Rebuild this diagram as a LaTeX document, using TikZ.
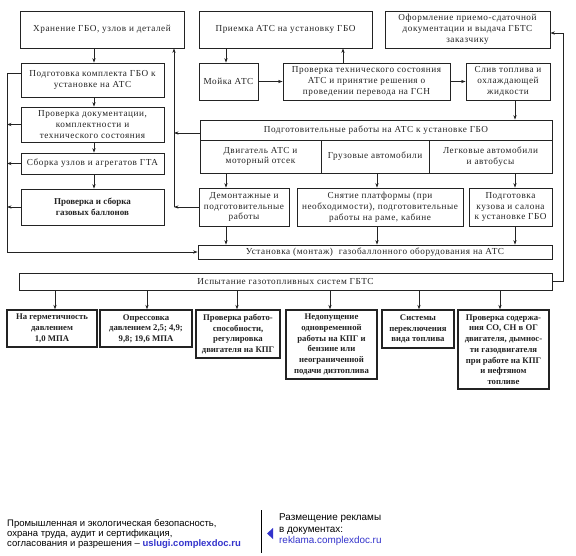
\documentclass[tikz,border=0pt]{standalone}
\usepackage{fontspec}
\setmainfont{Liberation Serif}
\newfontfamily\footsans{Liberation Sans}
\newfontfamily\wideserif[LetterSpace=6]{Liberation Serif}
\usetikzlibrary{arrows.meta,calc}
\definecolor{ink}{RGB}{35,35,35}
\definecolor{linkblue}{RGB}{51,51,204}
\tikzset{
 box/.style={draw=ink, line width=0.8pt, inner sep=0pt, align=center, font=\wideserif\fontsize{9.2}{10.8}\selectfont, text=ink},
 boldbox/.style={line width=1.4pt, font=\bfseries\fontsize{8.7}{10.7}\selectfont},
 arr/.style={draw=ink, line width=0.6pt, -{Stealth[length=4.5pt,width=3.2pt]}},
}
\newcommand\bx[7][]{%
 \pgfmathsetmacro\cx{(#3+#5)/2}\pgfmathsetmacro\cy{(#4+#6)/2}%
 \pgfmathsetmacro\ww{#5-#3}\pgfmathsetmacro\hh{#6-#4}%
 \node[box,#1,minimum width=\ww pt,minimum height=\hh pt] (#2) at (\cx,\cy) {#7};}
\begin{document}
\begin{tikzpicture}[x=1pt,y=-1pt]
\useasboundingbox (0,0) rectangle (576,555);
\fill[white] (0,0) rectangle (576,555);
% left column
\bx{hran}{20}{11}{184}{48}{Хранение ГБО, узлов и деталей}
\bx{podg}{21}{63}{164}{97}{Подготовка комплекта ГБО к\\установке на АТС}
\bx{provdoc}{21}{107}{164}{142}{Проверка документации,\\комплектности и\\технического состояния}
\bx{sborka}{21}{153}{164}{174}{Сборка узлов и агрегатов ГТА}
\bx[font=\bfseries\fontsize{9}{11}\selectfont]{ballon}{21}{189}{164}{225}{Проверка и сборка\\газовых баллонов}
% top middle/right
\bx{priem}{199}{11}{372}{48}{Приемка АТС на установку ГБО}
\bx{moika}{199}{63}{258}{100}{Мойка АТС}
\bx{provteh}{283}{63}{450}{100}{Проверка технического состояния\\АТС и принятие решения о\\проведении перевода на ГСН}
\bx{sliv}{466}{63}{550}{100}{Слив топлива и\\охлаждающей\\жидкости}
\bx{oform}{385}{11}{550}{48}{Оформление приемо-сдаточной\\документации и выдача ГБТС\\заказчику}
% preparatory block
\bx{prephead}{200}{120}{552}{140}{Подготовительные работы на АТС к установке ГБО}
\bx{col1}{200}{140}{321}{173}{Двигатель АТС и\\моторный отсек}
\bx{col2}{321}{140}{429}{173}{Грузовые автомобили}
\bx{col3}{429}{140}{552}{173}{Легковые автомобили\\и автобусы}
\bx{demont}{199}{188}{289}{226}{Демонтажные и\\подготовительные\\работы}
\bx{snyat}{297}{188}{463}{226}{Снятие платформы (при\\необходимости), подготовительные\\работы на раме, кабине}
\bx{kuzov}{469}{188}{552}{226}{Подготовка\\кузова и салона\\к установке ГБО}
\bx{ustan}{198}{245}{552}{259}{Установка (монтаж)\ \ газобаллонного оборудования на АТС}
\bx{ispyt}{19}{273}{552}{290}{Испытание газотопливных систем ГБТС}
% bottom row
\bx[boldbox]{b1}{7}{310}{97}{347}{На герметичность\\давлением\\1,0 МПА}
\bx[boldbox]{b2}{100}{310}{192}{347}{Опрессовка\\давлением 2,5; 4,9;\\9,8; 19,6 МПА}
\bx[boldbox]{b3}{196}{310}{280}{358}{Проверка работо-\\способности,\\регулировка\\двигателя на КПГ}
\bx[boldbox]{b4}{286}{310}{377}{379}{Недопущение\\одновременной\\работы на КПГ и\\бензине или\\неограниченной\\подачи дизтоплива}
\bx[boldbox]{b5}{382}{310}{454}{348}{Системы\\переключения\\вида топлива}
\bx[boldbox]{b6}{458}{310}{549}{389}{Проверка содержа-\\ния СО, СН в ОГ\\двигателя, дымнос-\\ти газодвигателя\\при работе на КПГ\\и нефтяном\\топливе}
% coordinates
\coordinate (xL) at (7,0);
\coordinate (xM) at (174,0);
\coordinate (xR) at (563,0);
\coordinate (x94) at (94,0);
\coordinate (x226) at (226,0);
\coordinate (x343) at (343,0);
\coordinate (x377) at (377,0);
\coordinate (x515) at (515,0);
\coordinate (y73) at (0,73);
\coordinate (y133) at (0,133);
\coordinate (y33) at (0,33);
% left column vertical arrows
\draw[arr] (x94 |- hran.south) -- (x94 |- podg.north);
\draw[arr] (x94 |- podg.south) -- (x94 |- provdoc.north);
\draw[arr] (x94 |- provdoc.south) -- (x94 |- sborka.north);
\draw[arr] (x94 |- sborka.south) -- (x94 |- ballon.north);
% left collecting line
\draw[arr] (podg.west |- y73) -- (xL |- y73) -- (xL |- ustan.west) -- (ustan.west);
\draw[arr] (provdoc.west) -- (provdoc.west -| xL);
\draw[arr] (sborka.west) -- (sborka.west -| xL);
\draw[arr] (ballon.west) -- (ballon.west -| xL);
% middle collecting line
\draw[arr] (xM |- demont.west) -- (xM |- hran.south);
\draw[arr] (prephead.west |- y133) -- (xM |- y133);
\draw[arr] (demont.west) -- (demont.west -| xM);
% top flow
\draw[arr] (x226 |- priem.south) -- (x226 |- moika.north);
\draw[arr] (moika.east) -- (provteh.west);
\draw[arr] (x343 |- provteh.north) -- (x343 |- priem.south);
\draw[arr] (provteh.east) -- (sliv.west);
\draw[arr] (x515 |- sliv.south) -- (x515 |- prephead.north);
% prep to row 3
\draw[arr] (x226 |- col1.south) -- (x226 |- demont.north);
\draw[arr] (x377 |- col2.south) -- (x377 |- snyat.north);
\draw[arr] (x515 |- col3.south) -- (x515 |- kuzov.north);
% row 3 to installation
\draw[arr] (x226 |- demont.south) -- (x226 |- ustan.north);
\draw[arr] (x377 |- snyat.south) -- (x377 |- ustan.north);
\draw[arr] (x515 |- kuzov.south) -- (x515 |- ustan.north);
% right return line
\draw[arr] (ispyt.east) -- (xR |- ispyt.east) -- (xR |- y33) -- (oform.east |- y33);
% test to bottom boxes
\foreach \b/\xx in {b1/55,b2/147,b3/237,b4/330,b5/419,b6/500}{
 \coordinate (t\b) at (\xx,0);
 \draw[arr] (t\b |- ispyt.south) -- (t\b |- \b.north);
}
% footer
\node[anchor=north west, align=left, inner sep=0pt, font=\footsans\fontsize{9.5}{10}\selectfont] (footL) at (7,519)
 {Промышленная и экологическая безопасность,\\охрана труда, аудит и сертификация,\\согласования и разрешения – \textcolor{linkblue}{\bfseries uslugi.complexdoc.ru}};
\draw[line width=0.8pt, black] (261,510) -- (261,553);
\fill[linkblue] (267,533.5) -- (273,528) -- (273,539) -- cycle;
\node[anchor=north west, align=left, inner sep=0pt, font=\footsans\fontsize{9.9}{11.5}\selectfont] (footR) at (279,513.5)
 {Размещение рекламы\\в документах:\\\textcolor{linkblue}{reklama.complexdoc.ru}};
\end{tikzpicture}
\end{document}
